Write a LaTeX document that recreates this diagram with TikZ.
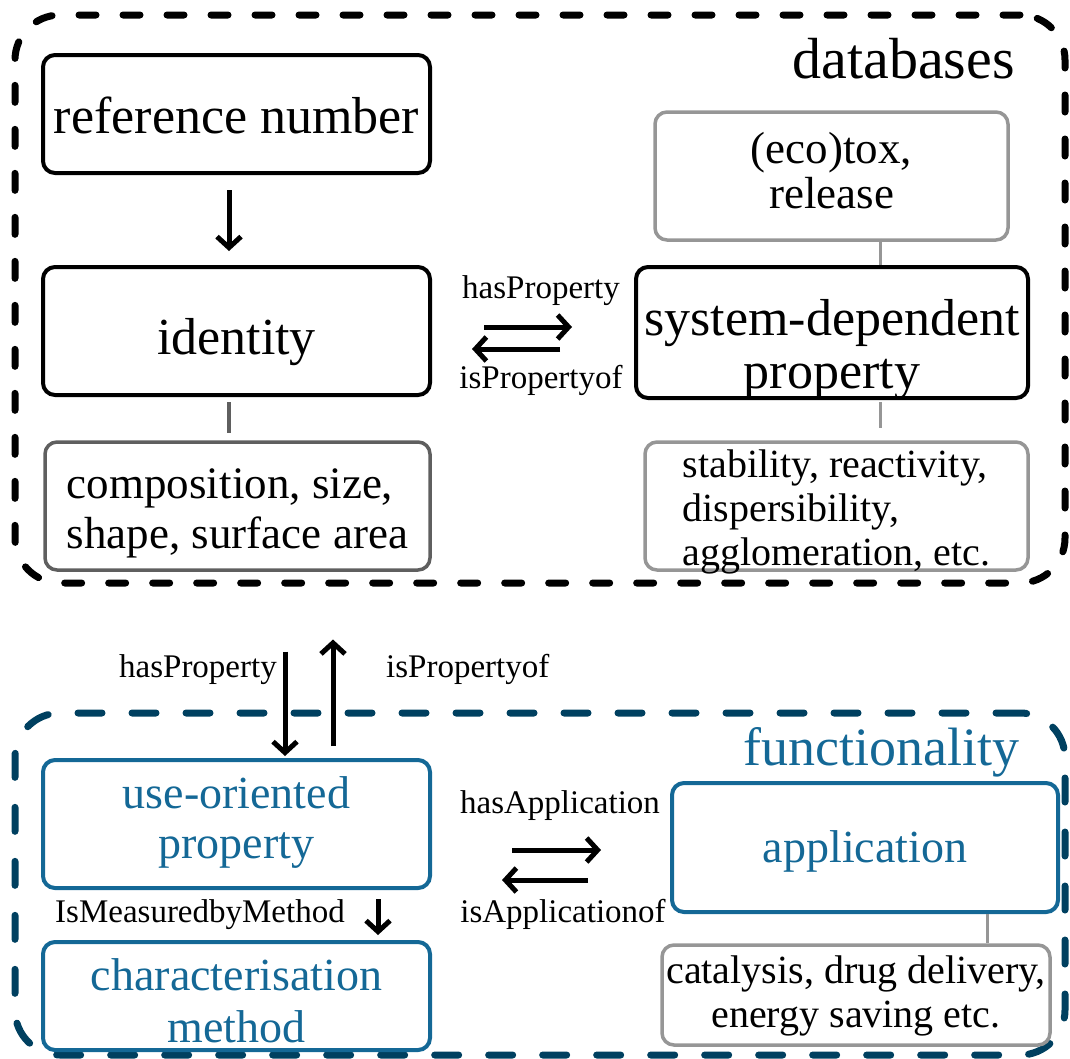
\documentclass[tikz,border=0pt]{standalone}
\usepackage{fontspec}
\setmainfont{Liberation Serif}
\usetikzlibrary{arrows.meta}

\definecolor{framebl}{RGB}{0,64,96}
\definecolor{boxbl}{RGB}{20,104,150}
\definecolor{lgrey}{RGB}{150,150,150}
\definecolor{dgrey}{RGB}{95,95,95}

\begin{document}
\begin{tikzpicture}[x=1pt,y=1pt,yscale=-1,
    blackbox/.style={draw=black, rounded corners=12pt, line width=4pt, align=center, text depth=0pt},
    greybox/.style={draw=lgrey, rounded corners=12pt, line width=3.5pt, align=center, text depth=0pt},
    bluebox/.style={draw=boxbl, text=boxbl, rounded corners=12pt, line width=4pt, align=center, text depth=0pt},
    dbframe/.style={draw=black, rounded corners=45pt, line width=7pt, line cap=round, dash pattern=on 17pt off 27pt},
    fnframe/.style={draw=framebl, rounded corners=45pt, line width=7pt, line cap=round, dash pattern=on 24pt off 30pt},
    arr/.style={line width=5pt, -{Straight Barb[length=11pt,width=24pt]}},
    lbl/.style={inner sep=0pt, font=\fontsize{33}{36}\selectfont}
  ]
  \useasboundingbox (0,0) rectangle (1070,1058);

  % frames
  \node[dbframe, minimum width=1050pt, minimum height=568pt] (dbs) at (540,299) {};
  \node[fnframe, minimum width=1050pt, minimum height=342pt] (fns) at (540,884) {};
  \node[anchor=base east, inner sep=0pt, font=\fontsize{58}{60}\selectfont] (dbstitle) at (1015,78) {databases};
  \node[anchor=base east, inner sep=0pt, text=boxbl, font=\fontsize{54}{56}\selectfont] (fnstitle) at (1020,765) {functionality};

  % databases part
  % (text height = twice the drop of the last baseline below the box centre)
  \node[blackbox, minimum width=387pt, minimum height=118pt, text height=38pt,
        font=\fontsize{52}{54}\selectfont] (ref) at (236.5,114) {reference number};
  \node[blackbox, minimum width=387pt, minimum height=128pt, text height=46pt,
        font=\fontsize{52}{54}\selectfont] (ident) at (236.5,331) {identity};
  \node[greybox, draw=dgrey, minimum width=385pt, minimum height=128pt, align=left, text height=84pt,
        font=\fontsize{45}{50}\selectfont] (comp) at (237.5,506) {composition, size,\\shape, surface area};
  \node[greybox, minimum width=353pt, minimum height=128pt, text height=64pt,
        font=\fontsize{45}{45}\selectfont] (ecotox) at (831.5,176) {(eco)tox,\\release};
  \node[blackbox, minimum width=392pt, minimum height=131pt, inner xsep=0pt, text height=111pt,
        font=\fontsize{52}{53}\selectfont] (sdp) at (832,332.5) {system-dependent\\property};
  \node[greybox, minimum width=383pt, minimum height=128pt, align=left, text height=118pt,
        font=\fontsize{40}{44}\selectfont] (stab) at (836.5,506) {stability, reactivity,\\dispersibility,\\agglomeration, etc.};

  % functionality part
  \node[bluebox, minimum width=387pt, minimum height=128pt, text height=68pt,
        font=\fontsize{46}{50}\selectfont] (useprop) at (236.5,824) {use-oriented\\property};
  \node[bluebox, minimum width=387pt, minimum height=108pt, text height=92pt,
        font=\fontsize{46}{52}\selectfont] (charm) at (236.5,996) {characterisation\\method};
  \node[bluebox, minimum width=386pt, minimum height=129pt, text height=30pt,
        font=\fontsize{46}{50}\selectfont] (app) at (865,847.5) {application};
  \node[greybox, minimum width=388pt, minimum height=100pt, inner xsep=0pt, text height=64pt,
        font=\fontsize{40}{44}\selectfont] (cat) at (856,995) {catalysis, drug delivery,\\energy saving etc.};

  % plain links
  \draw[line width=3.5pt, draw=dgrey, shorten <=5pt, shorten >=7pt] ([xshift=-7.5pt]ident.south) -- ([xshift=-8.5pt]comp.north);
  \draw[line width=3pt, draw=lgrey, shorten <=-3pt] ([xshift=48.5pt]ecotox.south) -- ([xshift=48pt]sdp.north);
  \draw[line width=3pt, draw=lgrey, shorten <=2pt, shorten >=12pt] ([xshift=48pt]sdp.south) -- ([xshift=43.5pt]stab.north);
  \draw[line width=3pt, draw=lgrey] ([xshift=122pt]app.south) -- ([xshift=131pt]cat.north);

  % arrows
  \draw[arr, shorten <=15pt, shorten >=14pt] ([xshift=-7.5pt]ref.south) -- ([xshift=-7.5pt]ident.north);
  \draw[arr, shorten <=52pt, shorten >=62pt] ([yshift=-4pt]ident.east) -- ([yshift=-5.5pt]sdp.west);
  \draw[arr, shorten <=74pt, shorten >=40pt] ([yshift=16.5pt]sdp.west) -- ([yshift=18pt]ident.east);
  \draw[arr, shorten <=65pt, shorten >=2pt] ([xshift=48.5pt]useprop.north |- dbs.south) -- ([xshift=48.5pt]useprop.north);
  \draw[arr, shorten <=12pt, shorten >=53pt] ([xshift=96.5pt]useprop.north) -- ([xshift=96.5pt]useprop.north |- dbs.south);
  \draw[arr, shorten <=9pt, shorten >=5pt] ([xshift=141.5pt]useprop.south) -- ([xshift=141.5pt]charm.north);
  \coordinate (hasapp) at ([yshift=2.5pt]app.west);
  \coordinate (isapp) at ([yshift=32.5pt]app.west);
  \draw[arr, shorten <=80pt, shorten >=69pt] (useprop.east |- hasapp) -- (hasapp);
  \draw[arr, shorten <=82pt, shorten >=70pt] (isapp) -- (useprop.east |- isapp);

  % labels
  \node[lbl, anchor=base] (hp1) at (541,298) {hasProperty};
  \node[lbl, anchor=base] (ipo1) at (541,388) {isPropertyof};
  \node[lbl, anchor=base east] (hp2) at (277,677) {hasProperty};
  \node[lbl, anchor=base west] (ipo2) at (386,677) {isPropertyof};
  \node[lbl, anchor=base west] (imm) at (55,922) {IsMeasuredbyMethod};
  \node[lbl, anchor=base] (ha) at (560,813) {hasApplication};
  \node[lbl, anchor=base] (iao) at (563,922) {isApplicationof};
\end{tikzpicture}
\end{document}
